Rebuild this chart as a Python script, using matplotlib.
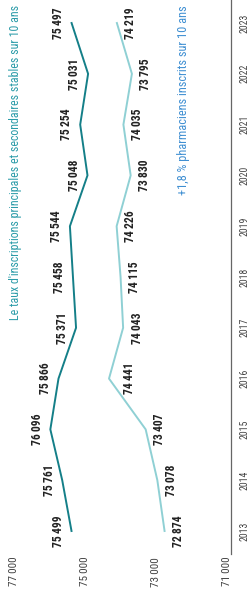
import numpy as np
import matplotlib
matplotlib.use("Agg")
import matplotlib.pyplot as plt
from matplotlib.transforms import ScaledTranslation

plt.rcParams['font.family'] = ['Roboto Condensed', 'DejaVu Sans']

years = [2013, 2014, 2015, 2016, 2017, 2018, 2019, 2020, 2021, 2022, 2023]
inscriptions = [75499, 75761, 76096, 75866, 75371, 75458, 75544, 75048, 75254, 75031, 75497]
pharmaciens = [72874, 73078, 73407, 74441, 74043, 74115, 74226, 73830, 74035, 73795, 74219]
value_ticks = [77000, 75000, 73000, 71000]
title_1 = "Le taux d'inscriptions principales et secondaires stables sur 10 ans"
title_2 = "+1,8 % pharmaciens inscrits sur 10 ans"

dark = '#147f88'
light = '#8fd0d4'


def fmt(v):
    # thousands separated by a thin space
    return f"{v:,}".replace(",", "\u2009")


# chart is drawn turned a quarter turn: years run upward, values grow to the left
fig = plt.figure(figsize=(2.51, 5.94), dpi=100)
ax = fig.add_axes([0, 40 / 594, 231 / 251, 554 / 594])

ax.plot(inscriptions, years, color=dark, lw=1.4)
ax.plot(pharmaciens, years, color=light, lw=1.4)

ax.set_xlim(77516, 71000)
ax.set_ylim(2012.547, 2023.453)

for y, v in zip(years, inscriptions):
    ax.annotate(fmt(v), (v, y), xytext=(-9.5, 0), textcoords='offset points',
                rotation=90, ha='center', va='center', fontsize=8.4,
                fontweight='bold', color='#222222')
for y, v in zip(years, pharmaciens):
    dx = 14.5 if y == 2016 else 10  # keep the 2016 label off the rising segment
    ax.annotate(fmt(v), (v, y), xytext=(dx, 0), textcoords='offset points',
                rotation=90, ha='center', va='center', fontsize=8.4,
                fontweight='bold', color='#222222')

for s in ['left', 'top', 'bottom']:
    ax.spines[s].set_visible(False)
ax.spines['right'].set_color('#666666')
ax.spines['right'].set_linewidth(0.9)

ax.yaxis.tick_right()
ax.set_yticks(years)
ax.set_yticklabels([str(y) for y in years], rotation=90, va='center',
                   fontsize=7, color='#444444')
ax.tick_params(axis='y', length=0, pad=6)

ax.set_xticks(value_ticks)
ax.set_xticklabels([fmt(v) for v in value_ticks], rotation=90, ha='center',
                   va='top', fontsize=8, color='#444444')
ax.tick_params(axis='x', length=0, pad=2)
off = ScaledTranslation(-4 / 100, 0, fig.dpi_scale_trans)
for lab in ax.get_xticklabels():
    lab.set_transform(lab.get_transform() + off)

fig.text(15.5 / 251, 1 - 5 / 594, title_1, rotation=90, ha='center', va='top',
         fontsize=8.6, color='#2a9ba8')
fig.text(184 / 251, 1 - 5 / 594, title_2, rotation=90, ha='center', va='top',
         fontsize=8.9, color='#3f8fd2')

fig.savefig('out.png', dpi=100)
